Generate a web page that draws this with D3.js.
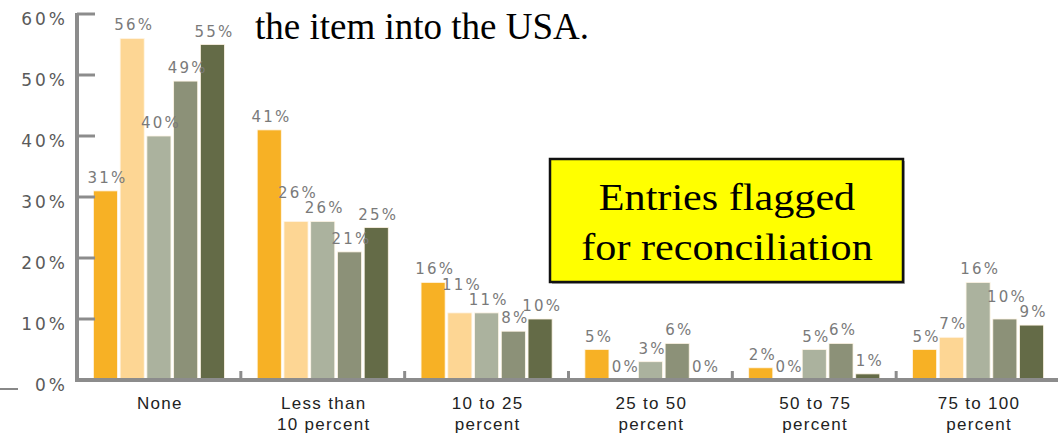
<!DOCTYPE html>
<html>
<head>
<meta charset="utf-8">
<title>Share of entries by percent</title>
<script src="https://d3js.org/d3.v7.min.js"></script>
<style>
  body { margin: 0; background: #fff; }
  svg { display: block; }
</style>
</head>
<body>
<svg id="chart" width="1058" height="435"></svg>
<script>
// categories along the x axis (two lines each)
const categories = ["None", "Less than|10 percent", "10 to 25|percent", "25 to 50|percent", "50 to 75|percent", "75 to 100|percent"];
const seriesNames = ["s1", "s2", "s3", "s4", "s5"];
const seriesColors = ["#f7b125", "#fdd694", "#abb29e", "#8c9178", "#646b47"];
// percent values, one array per series
const s1 = [31, 41, 16, 5, 2, 5];
const s2 = [56, 26, 11, 0, 0, 7];
const s3 = [40, 26, 11, 3, 5, 16];
const s4 = [49, 21, 8, 6, 6, 10];
const s5 = [55, 25, 10, 0, 1, 9];
const yTicks = [0, 10, 20, 30, 40, 50, 60];

const series = [s1, s2, s3, s4, s5];
const svg = d3.select("#chart");

const plotLeft = 77, plotRight = 1060, plotBase = 380, plotTop = 14;

var x = d3.scaleBand().domain(d3.range(categories.length)).range([plotLeft, plotRight]).paddingInner(0.2).paddingOuter(0.1);
var xi = d3.scaleBand().domain(d3.range(seriesNames.length)).range([0, x.bandwidth()]).paddingInner(0.1);
var y = d3.scaleLinear().domain([0, 60]).range([plotBase, plotTop]);

// heading text above the chart
svg.append("text")
  .attr("x", 255).attr("y", 39)
  .attr("font-family", "Liberation Serif, Times New Roman, serif")
  .attr("font-size", 37)
  .attr("fill", "#000")
  .text("the item into the USA.");

// bars
const groups = svg.append("g").selectAll("g").data(categories).enter().append("g")
  .attr("transform", (d, i) => "translate(" + x(i) + ",0)");

groups.selectAll("rect")
  .data((d, i) => series.map((s, j) => ({ v: s[i], j: j })))
  .enter().append("rect")
  .attr("x", d => xi(d.j))
  .attr("y", d => y(d.v))
  .attr("width", xi.bandwidth())
  .attr("height", d => plotBase - y(d.v))
  .attr("fill", d => seriesColors[d.j])
  .attr("stroke", "#fff6e6")
  .attr("stroke-width", 0.8);

// value labels; lift a label when it would sit on top of its right neighbour
const labelFont = 15, labelSpacing = 2.2;
groups.each(function (d, i) {
  const labs = series.map((s, j) => {
    const txt = s[i] + "%";
    const w = (txt.length - 1) * 0.636 * labelFont + 0.95 * labelFont + (txt.length - 1) * labelSpacing;
    return { v: s[i], j: j, txt: txt, cx: xi(j) + xi.bandwidth() / 2 + 1, ly: y(s[i]) - 8, w: w };
  });
  for (let j = labs.length - 2; j >= 0; j--) {
    const a = labs[j], b = labs[j + 1];
    const overlap = (a.cx + a.w / 2) - (b.cx - b.w / 2);
    if (a.ly <= b.ly + 2 && b.ly - a.ly < 14 && overlap > 4) a.ly = b.ly - 15;
  }
  d3.select(this).selectAll("text").data(labs).enter().append("text")
    .attr("x", l => l.cx + labelSpacing / 2)
    .attr("y", l => l.ly)
    .attr("text-anchor", "middle")
    .attr("font-family", "DejaVu Sans, sans-serif")
    .attr("font-size", labelFont)
    .attr("letter-spacing", labelSpacing)
    .attr("fill", "#7a7a7a")
    .text(l => l.txt);
});

// axes
const axisColor = "#8c8c8c";
svg.append("line").attr("x1", plotLeft).attr("x2", plotLeft).attr("y1", plotTop - 1).attr("y2", plotBase + 2)
  .attr("stroke", axisColor).attr("stroke-width", 4);
svg.append("line").attr("x1", plotLeft).attr("x2", 1058).attr("y1", plotBase).attr("y2", plotBase)
  .attr("stroke", axisColor).attr("stroke-width", 4);

svg.append("g").selectAll("line").data(yTicks).enter().append("line")
  .attr("x1", plotLeft).attr("x2", plotLeft + 18)
  .attr("y1", d => y(d)).attr("y2", d => y(d))
  .attr("stroke", axisColor).attr("stroke-width", 3);

svg.append("g").selectAll("text").data(yTicks).enter().append("text")
  .attr("x", 68).attr("y", d => y(d) + 11)
  .attr("text-anchor", "end")
  .attr("font-family", "DejaVu Sans, sans-serif")
  .attr("font-size", 17)
  .attr("letter-spacing", 3)
  .attr("fill", "#5a5a5a")
  .text(d => d + "%");

// small marks between groups
svg.append("g").selectAll("line").data(d3.range(1, categories.length)).enter().append("line")
  .attr("x1", d => x(d) - x.step() * x.paddingOuter())
  .attr("x2", d => x(d) - x.step() * x.paddingOuter())
  .attr("y1", plotBase - 9).attr("y2", plotBase)
  .attr("stroke", axisColor).attr("stroke-width", 3);

// category labels
svg.append("g").selectAll("text").data(categories).enter().append("text")
  .attr("x", (d, i) => x(i) + x.bandwidth() / 2 + 1)
  .attr("y", 409)
  .attr("text-anchor", "middle")
  .attr("font-family", "Liberation Sans, Arial, sans-serif")
  .attr("font-size", 17)
  .attr("letter-spacing", 1.3)
  .attr("fill", "#222")
  .each(function (d) {
    const parts = d.split("|");
    const t = d3.select(this);
    parts.forEach((p, k) => {
      t.append("tspan").attr("x", t.attr("x")).attr("dy", k === 0 ? 0 : 21).text(p);
    });
  });

// little dash at left edge
svg.append("line").attr("x1", 0).attr("x2", 18).attr("y1", 389).attr("y2", 389)
  .attr("stroke", "#888").attr("stroke-width", 2);

// yellow callout box
svg.append("rect").attr("x", 552).attr("y", 161).attr("width", 353).attr("height", 123)
  .attr("fill", "#b0b0b0");
svg.append("rect").attr("x", 550).attr("y", 159).attr("width", 353).attr("height", 123)
  .attr("fill", "#ffff00").attr("stroke", "#111").attr("stroke-width", 2.5);
const boxText = ["Entries flagged", "for reconciliation"];
svg.append("g").attr("transform", "translate(727,0) scale(1.11,1)")
  .selectAll("text").data(boxText).enter().append("text")
  .attr("x", 0).attr("y", (d, i) => 210 + i * 50)
  .attr("text-anchor", "middle")
  .attr("font-family", "Liberation Serif, Times New Roman, serif")
  .attr("font-size", 38)
  .attr("fill", "#000")
  .text(d => d);
</script>
</body>
</html>
